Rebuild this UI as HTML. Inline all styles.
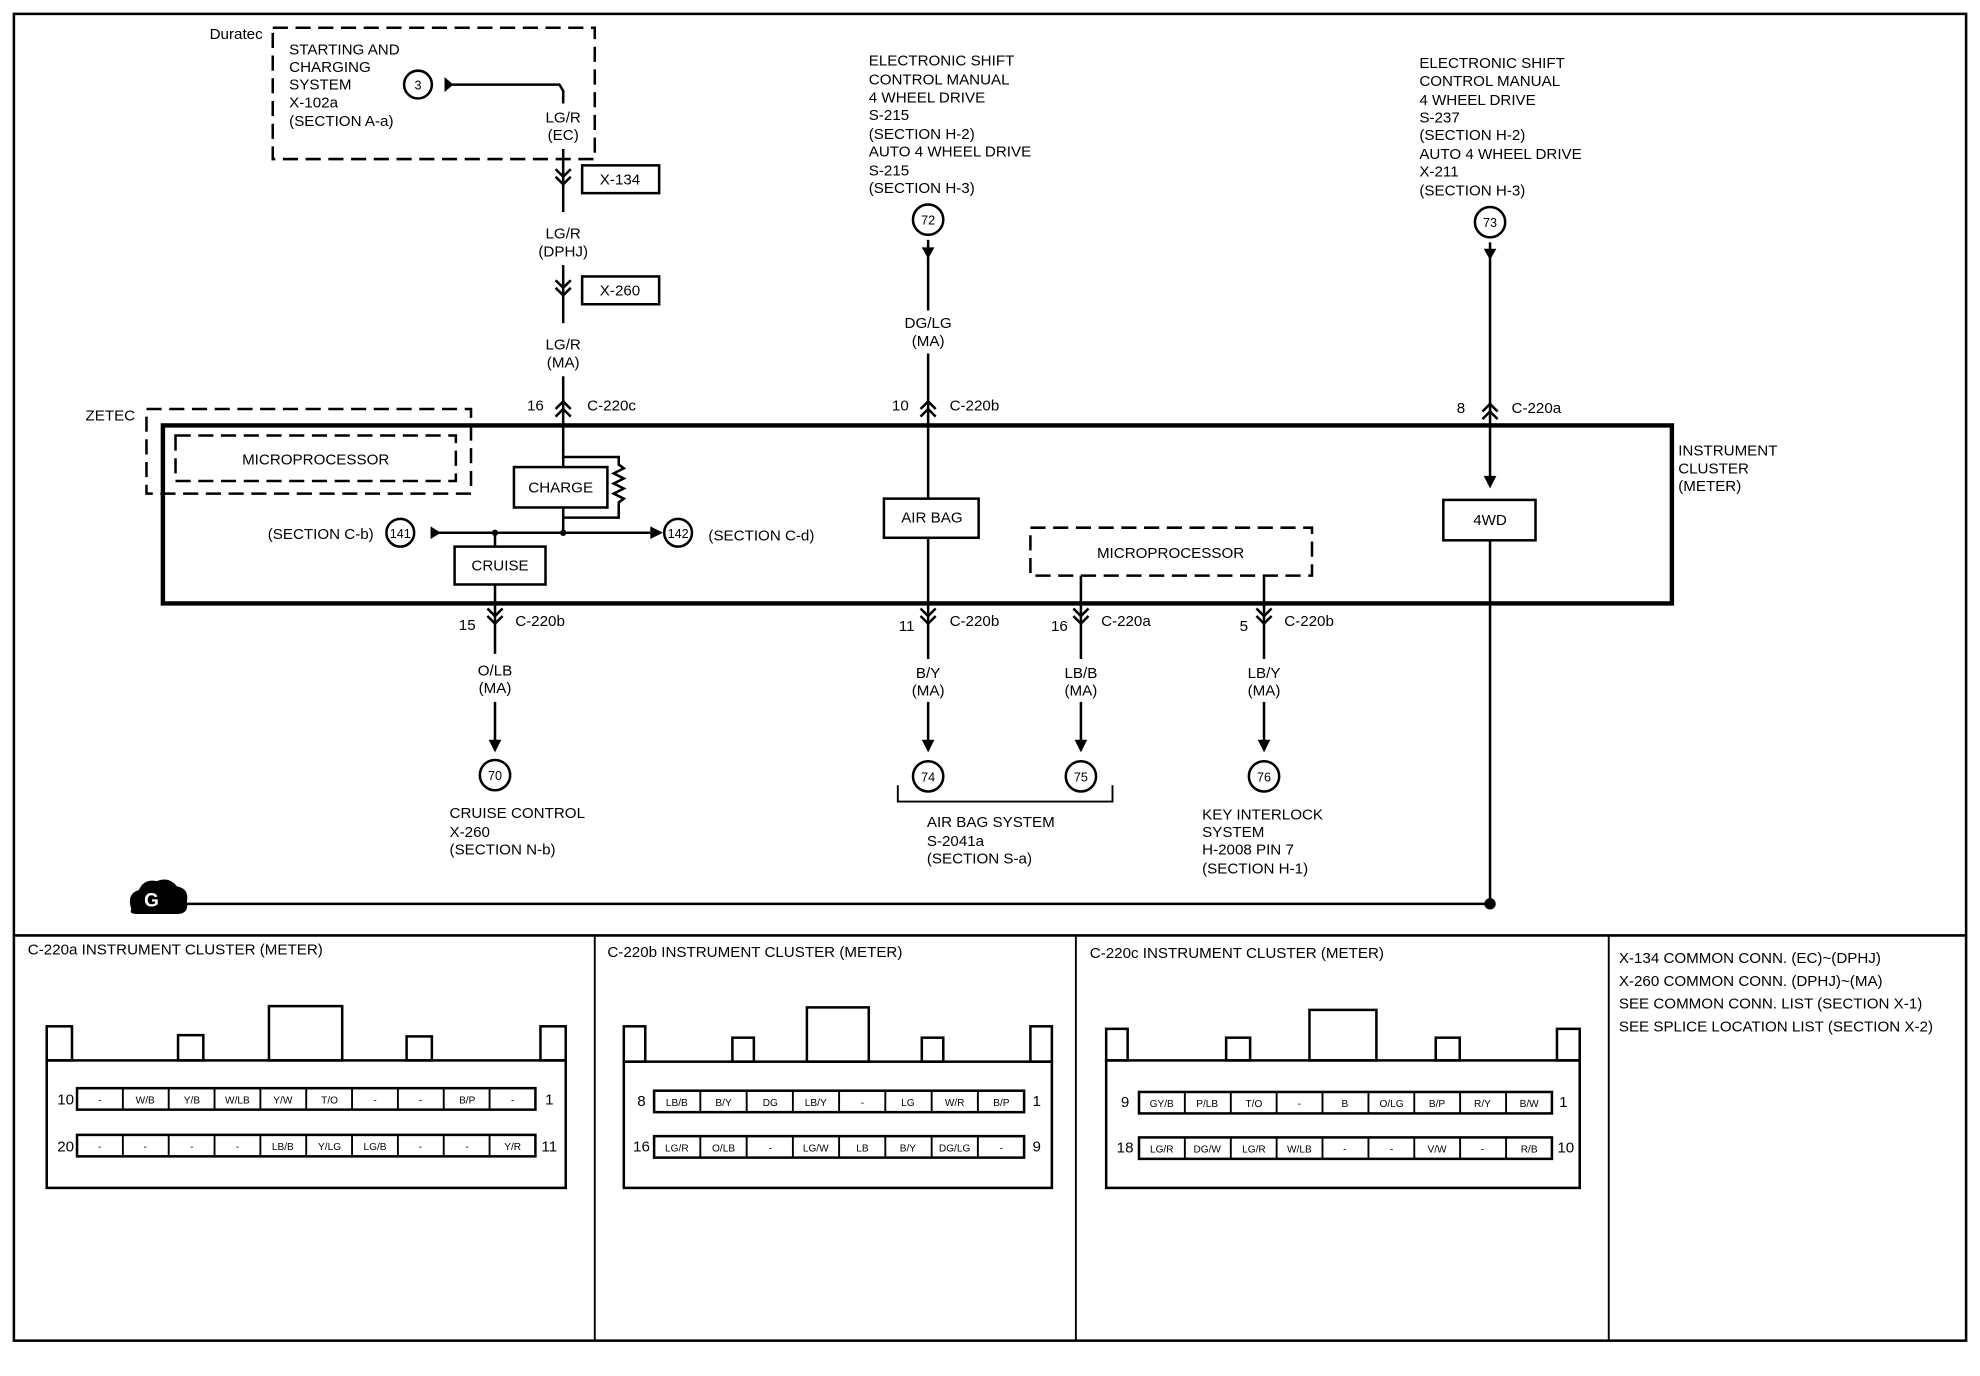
<!DOCTYPE html>
<html><head><meta charset="utf-8"><style>
html,body{margin:0;padding:0;background:#fff;}
svg{display:block;}
text{font-family:"Liberation Sans Narrow","Liberation Sans",sans-serif;font-size:12px;fill:#000;}
.s{font-size:8px;}
</style></head><body>
<svg width="1980" height="1376" viewBox="0 0 1568 1090" preserveAspectRatio="none" xmlns="http://www.w3.org/2000/svg">
<defs>
<g id="cd" fill="none" stroke="#000" stroke-width="2"><polyline points="-6,-9 0,-3 6,-9"/><polyline points="-6,-3 0,3 6,-3"/></g>
<g id="cu" fill="none" stroke="#000" stroke-width="2"><polyline points="-6,9 0,3 6,9"/><polyline points="-6,3 0,-3 6,3"/></g>
</defs>
<rect x="0" y="0" width="1568" height="1090" fill="#fff"/>
<g fill="none" stroke="#000">
<rect x="11" y="11" width="1546" height="1051" stroke-width="2"/>
<line x1="11" y1="741" x2="1557" y2="741" stroke-width="2"/>
<line x1="471" y1="741" x2="471" y2="1062" stroke-width="1.5"/>
<line x1="852" y1="741" x2="852" y2="1062" stroke-width="1.5"/>
<line x1="1274" y1="741" x2="1274" y2="1062" stroke-width="1.5"/>
<!-- dashed boxes -->
<rect x="216" y="22" width="255" height="104" stroke-width="2" stroke-dasharray="12,6"/>
<rect x="116" y="324" width="257" height="67" stroke-width="2" stroke-dasharray="12,6"/>
<rect x="139" y="345" width="222" height="36" stroke-width="2" stroke-dasharray="12,6"/>
<rect x="816" y="418" width="223" height="38" stroke-width="2" stroke-dasharray="12,6"/>
<!-- cluster -->
<rect x="129" y="337" width="1195" height="141" stroke-width="3.5"/>
<!-- wires -->
<g stroke-width="2">
<polyline points="358,67 443,67 446,72 446,82"/>
<line x1="446" y1="118" x2="446" y2="168"/>
<line x1="446" y1="210" x2="446" y2="256"/>
<line x1="446" y1="298" x2="446" y2="370"/>
<polyline points="446,362 490,362 490,368 494,371 486,375 494,379 486,383 494,387 486,391 494,395 490,398 490,410 446,410"/>
<line x1="446" y1="402" x2="446" y2="422"/>
<line x1="341" y1="422" x2="515" y2="422"/>
<line x1="392" y1="422" x2="392" y2="433"/>
<line x1="392" y1="463" x2="392" y2="518"/>
<line x1="392" y1="556" x2="392" y2="588"/>
<line x1="735" y1="190" x2="735" y2="246"/>
<line x1="735" y1="280" x2="735" y2="395"/>
<line x1="735" y1="426" x2="735" y2="522"/>
<line x1="735" y1="556" x2="735" y2="588"/>
<line x1="856" y1="456" x2="856" y2="522"/>
<line x1="856" y1="556" x2="856" y2="588"/>
<line x1="1001" y1="456" x2="1001" y2="522"/>
<line x1="1001" y1="556" x2="1001" y2="588"/>
<line x1="1180" y1="192" x2="1180" y2="380"/>
<line x1="1180" y1="428" x2="1180" y2="716"/>
<line x1="148" y1="716" x2="1180" y2="716"/>
<polyline points="711,622 711,635 881,635 881,622" stroke-width="1.5"/>
</g>
<!-- circles -->
<g stroke-width="2">
<circle cx="331" cy="67" r="11"/>
<circle cx="317" cy="422" r="11"/>
<circle cx="537" cy="422" r="11"/>
<circle cx="735" cy="174" r="12"/>
<circle cx="1180" cy="176" r="12"/>
<circle cx="392" cy="614" r="12"/>
<circle cx="735" cy="615" r="12"/>
<circle cx="856" cy="615" r="12"/>
<circle cx="1001" cy="615" r="12"/>
</g>
<!-- boxes -->
<g stroke-width="2">
<rect x="461" y="131" width="61" height="22"/>
<rect x="461" y="219" width="61" height="22"/>
<rect x="407" y="370" width="74" height="32"/>
<rect x="360" y="433" width="72" height="30"/>
<rect x="700" y="395" width="75" height="31"/>
<rect x="1143" y="396" width="73" height="32"/>
</g>
</g>
<!-- arrowheads -->
<g fill="#000">
<polygon points="352,61 352,73 359,67"/>
<polygon points="341,417 341,427 349,422"/>
<polygon points="515,417 515,427 525,422"/>
<polygon points="730,196 740,196 735,205"/>
<polygon points="1175,197 1185,197 1180,206"/>
<polygon points="1175,377 1185,377 1180,387"/>
<polygon points="387,586 397,586 392,596"/>
<polygon points="730,586 740,586 735,596"/>
<polygon points="851,586 861,586 856,596"/>
<polygon points="996,586 1006,586 1001,596"/>
<circle cx="446" cy="422" r="2.5"/>
<circle cx="392" cy="422" r="2.5"/>
<circle cx="1180" cy="716" r="4.5"/>
<path d="M104,720 Q100,708 110,705 Q114,696 124,698 Q134,694 140,702 Q150,704 148,714 Q150,724 140,724 L108,724 Q102,724 104,720Z"/>
</g>
<text x="120" y="718" text-anchor="middle" style="fill:#fff;font-weight:bold;font-size:15px">G</text>
<use href="#cd" x="446" y="143"/><use href="#cd" x="446" y="231"/>
<use href="#cu" x="446" y="321"/><use href="#cu" x="735" y="321"/><use href="#cu" x="1180" y="323"/>
<use href="#cd" x="392" y="491"/><use href="#cd" x="735" y="491"/><use href="#cd" x="856" y="491"/><use href="#cd" x="1001" y="491"/>
<!-- text -->
<text x="208" y="31" text-anchor="end">Duratec</text>
<text x="229" y="43">STARTING AND</text>
<text x="229" y="57">CHARGING</text>
<text x="229" y="71">SYSTEM</text>
<text x="229" y="85">X-102a</text>
<text x="229" y="100">(SECTION A-a)</text>
<text x="331" y="71" text-anchor="middle" class="s" style="font-size:10px">3</text>
<text x="446" y="97" text-anchor="middle">LG/R</text><text x="446" y="111" text-anchor="middle">(EC)</text>
<text x="491" y="146" text-anchor="middle">X-134</text>
<text x="491" y="234" text-anchor="middle">X-260</text>
<text x="446" y="189" text-anchor="middle">LG/R</text><text x="446" y="203" text-anchor="middle">(DPHJ)</text>
<text x="446" y="277" text-anchor="middle">LG/R</text><text x="446" y="291" text-anchor="middle">(MA)</text>
<text x="424" y="325" text-anchor="middle">16</text><text x="465" y="325">C-220c</text>
<text x="107" y="333" text-anchor="end">ZETEC</text>
<text x="250" y="368" text-anchor="middle">MICROPROCESSOR</text>
<text x="444" y="390" text-anchor="middle">CHARGE</text>
<text x="396" y="452" text-anchor="middle">CRUISE</text>
<text x="212" y="427">(SECTION C-b)</text>
<text x="317" y="426" text-anchor="middle" style="font-size:10px">141</text>
<text x="537" y="426" text-anchor="middle" style="font-size:10px">142</text>
<text x="561" y="428">(SECTION C-d)</text>
<text x="370" y="499" text-anchor="middle">15</text><text x="408" y="496">C-220b</text>
<text x="392" y="535" text-anchor="middle">O/LB</text><text x="392" y="549" text-anchor="middle">(MA)</text>
<text x="392" y="618" text-anchor="middle" style="font-size:10px">70</text>
<text x="356" y="648">CRUISE CONTROL</text><text x="356" y="663">X-260</text><text x="356" y="677">(SECTION N-b)</text>
<text x="688" y="52">ELECTRONIC SHIFT</text><text x="688" y="67">CONTROL MANUAL</text><text x="688" y="81">4 WHEEL DRIVE</text><text x="688" y="95">S-215</text><text x="688" y="110">(SECTION H-2)</text><text x="688" y="124">AUTO 4 WHEEL DRIVE</text><text x="688" y="139">S-215</text><text x="688" y="153">(SECTION H-3)</text>
<text x="735" y="178" text-anchor="middle" style="font-size:10px">72</text>
<text x="735" y="260" text-anchor="middle">DG/LG</text><text x="735" y="274" text-anchor="middle">(MA)</text>
<text x="713" y="325" text-anchor="middle">10</text><text x="752" y="325">C-220b</text>
<text x="738" y="414" text-anchor="middle">AIR BAG</text>
<text x="927" y="442" text-anchor="middle">MICROPROCESSOR</text>
<text x="718" y="500" text-anchor="middle">11</text><text x="752" y="496">C-220b</text>
<text x="839" y="500" text-anchor="middle">16</text><text x="872" y="496">C-220a</text>
<text x="985" y="500" text-anchor="middle">5</text><text x="1017" y="496">C-220b</text>
<text x="735" y="537" text-anchor="middle">B/Y</text><text x="735" y="551" text-anchor="middle">(MA)</text>
<text x="856" y="537" text-anchor="middle">LB/B</text><text x="856" y="551" text-anchor="middle">(MA)</text>
<text x="1001" y="537" text-anchor="middle">LB/Y</text><text x="1001" y="551" text-anchor="middle">(MA)</text>
<text x="735" y="619" text-anchor="middle" style="font-size:10px">74</text>
<text x="856" y="619" text-anchor="middle" style="font-size:10px">75</text>
<text x="1001" y="619" text-anchor="middle" style="font-size:10px">76</text>
<text x="734" y="655">AIR BAG SYSTEM</text><text x="734" y="670">S-2041a</text><text x="734" y="684">(SECTION S-a)</text>
<text x="952" y="649">KEY INTERLOCK</text><text x="952" y="663">SYSTEM</text><text x="952" y="677">H-2008 PIN 7</text><text x="952" y="692">(SECTION H-1)</text>
<text x="1124" y="54">ELECTRONIC SHIFT</text><text x="1124" y="68">CONTROL MANUAL</text><text x="1124" y="83">4 WHEEL DRIVE</text><text x="1124" y="97">S-237</text><text x="1124" y="111">(SECTION H-2)</text><text x="1124" y="126">AUTO 4 WHEEL DRIVE</text><text x="1124" y="140">X-211</text><text x="1124" y="155">(SECTION H-3)</text>
<text x="1180" y="180" text-anchor="middle" style="font-size:10px">73</text>
<text x="1157" y="327" text-anchor="middle">8</text><text x="1197" y="327">C-220a</text>
<text x="1180" y="416" text-anchor="middle">4WD</text>
<text x="1329" y="361">INSTRUMENT</text><text x="1329" y="375">CLUSTER</text><text x="1329" y="389">(METER)</text>
<!-- bottom titles -->
<text x="22" y="756">C-220a  INSTRUMENT CLUSTER  (METER)</text>
<text x="481" y="758">C-220b  INSTRUMENT CLUSTER  (METER)</text>
<text x="863" y="759">C-220c  INSTRUMENT CLUSTER  (METER)</text>
<text x="1282" y="763">X-134    COMMON CONN. (EC)~(DPHJ)</text>
<text x="1282" y="781">X-260    COMMON CONN. (DPHJ)~(MA)</text>
<text x="1282" y="799">SEE COMMON CONN. LIST (SECTION X-1)</text>
<text x="1282" y="817">SEE SPLICE LOCATION LIST (SECTION X-2)</text>
<!-- connector A -->
<g fill="none" stroke="#000" stroke-width="2">
<rect x="37" y="840" width="411" height="101"/>
<rect x="37" y="813" width="20" height="27"/><rect x="141" y="820" width="20" height="20"/><rect x="213" y="797" width="58" height="43"/><rect x="322" y="821" width="20" height="19"/><rect x="428" y="813" width="20" height="27"/>
<rect x="61" y="862" width="363" height="17"/><rect x="61" y="899" width="363" height="17"/>
<rect x="494" y="841" width="339" height="100"/>
<rect x="494" y="813" width="17" height="28"/><rect x="580" y="822" width="17" height="19"/><rect x="639" y="798" width="49" height="43"/><rect x="730" y="822" width="17" height="19"/><rect x="816" y="813" width="17" height="28"/>
<rect x="518" y="864" width="293" height="17"/><rect x="518" y="900" width="293" height="17"/>
<rect x="876" y="840" width="375" height="101"/>
<rect x="876" y="815" width="17" height="25"/><rect x="971" y="822" width="19" height="18"/><rect x="1037" y="800" width="53" height="40"/><rect x="1137" y="822" width="19" height="18"/><rect x="1233" y="815" width="18" height="25"/>
<rect x="902" y="865" width="327" height="17"/><rect x="902" y="901" width="327" height="17"/>
</g>
<g stroke="#000" stroke-width="1.5">
<path d="M97.3,862v17M133.6,862v17M169.9,862v17M206.2,862v17M242.5,862v17M278.8,862v17M315.1,862v17M351.4,862v17M387.7,862v17"/>
<path d="M97.3,899v17M133.6,899v17M169.9,899v17M206.2,899v17M242.5,899v17M278.8,899v17M315.1,899v17M351.4,899v17M387.7,899v17"/>
<path d="M554.6,864v17M591.3,864v17M627.9,864v17M664.5,864v17M701.1,864v17M737.8,864v17M774.4,864v17"/>
<path d="M554.6,900v17M591.3,900v17M627.9,900v17M664.5,900v17M701.1,900v17M737.8,900v17M774.4,900v17"/>
<path d="M938.3,865v17M974.7,865v17M1011,865v17M1047.3,865v17M1083.7,865v17M1120,865v17M1156.3,865v17M1192.7,865v17"/>
<path d="M938.3,901v17M974.7,901v17M1011,901v17M1047.3,901v17M1083.7,901v17M1120,901v17M1156.3,901v17M1192.7,901v17"/>
</g>
<g class="s" text-anchor="middle">
<text x="79" y="874" class="s">-</text><text x="115" y="874" class="s">W/B</text><text x="152" y="874" class="s">Y/B</text><text x="188" y="874" class="s">W/LB</text><text x="224" y="874" class="s">Y/W</text><text x="261" y="874" class="s">T/O</text><text x="297" y="874" class="s">-</text><text x="333" y="874" class="s">-</text><text x="370" y="874" class="s">B/P</text><text x="406" y="874" class="s">-</text>
<text x="79" y="911" class="s">-</text><text x="115" y="911" class="s">-</text><text x="152" y="911" class="s">-</text><text x="188" y="911" class="s">-</text><text x="224" y="911" class="s">LB/B</text><text x="261" y="911" class="s">Y/LG</text><text x="297" y="911" class="s">LG/B</text><text x="333" y="911" class="s">-</text><text x="370" y="911" class="s">-</text><text x="406" y="911" class="s">Y/R</text>
<text x="536" y="876" class="s">LB/B</text><text x="573" y="876" class="s">B/Y</text><text x="610" y="876" class="s">DG</text><text x="646" y="876" class="s">LB/Y</text><text x="683" y="876" class="s">-</text><text x="719" y="876" class="s">LG</text><text x="756" y="876" class="s">W/R</text><text x="793" y="876" class="s">B/P</text>
<text x="536" y="912" class="s">LG/R</text><text x="573" y="912" class="s">O/LB</text><text x="610" y="912" class="s">-</text><text x="646" y="912" class="s">LG/W</text><text x="683" y="912" class="s">LB</text><text x="719" y="912" class="s">B/Y</text><text x="756" y="912" class="s">DG/LG</text><text x="793" y="912" class="s">-</text>
<text x="920" y="877" class="s">GY/B</text><text x="956" y="877" class="s">P/LB</text><text x="993" y="877" class="s">T/O</text><text x="1029" y="877" class="s">-</text><text x="1065" y="877" class="s">B</text><text x="1102" y="877" class="s">O/LG</text><text x="1138" y="877" class="s">B/P</text><text x="1174" y="877" class="s">R/Y</text><text x="1211" y="877" class="s">B/W</text>
<text x="920" y="913" class="s">LG/R</text><text x="956" y="913" class="s">DG/W</text><text x="993" y="913" class="s">LG/R</text><text x="1029" y="913" class="s">W/LB</text><text x="1065" y="913" class="s">-</text><text x="1102" y="913" class="s">-</text><text x="1138" y="913" class="s">V/W</text><text x="1174" y="913" class="s">-</text><text x="1211" y="913" class="s">R/B</text>
</g>
<text x="52" y="875" text-anchor="middle">10</text><text x="435" y="875" text-anchor="middle">1</text>
<text x="52" y="912" text-anchor="middle">20</text><text x="435" y="912" text-anchor="middle">11</text>
<text x="508" y="876" text-anchor="middle">8</text><text x="821" y="876" text-anchor="middle">1</text>
<text x="508" y="912" text-anchor="middle">16</text><text x="821" y="912" text-anchor="middle">9</text>
<text x="891" y="877" text-anchor="middle">9</text><text x="1238" y="877" text-anchor="middle">1</text>
<text x="891" y="913" text-anchor="middle">18</text><text x="1240" y="913" text-anchor="middle">10</text>
</svg>
</body></html>
